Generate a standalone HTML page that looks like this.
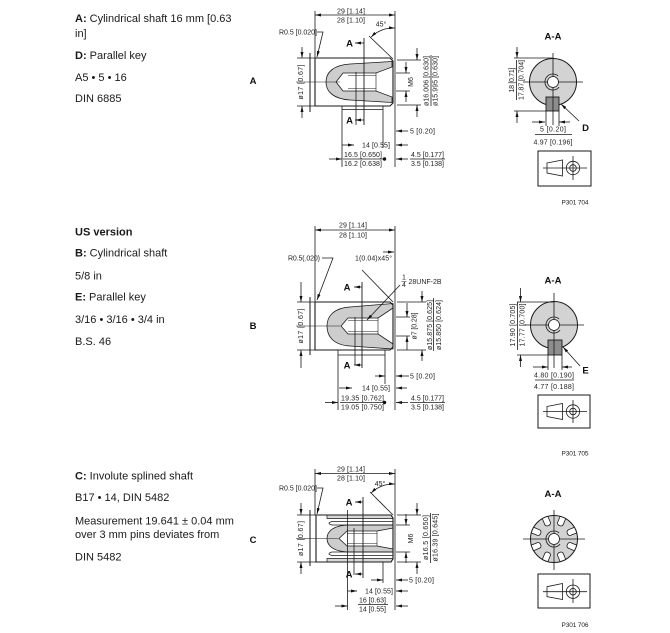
<!DOCTYPE html>
<html><head><meta charset="utf-8">
<style>
html,body{margin:0;padding:0;background:#fff;width:670px;height:633px;overflow:hidden}
svg{display:block}
.d{font-family:"Liberation Sans",sans-serif;font-size:7px;fill:#222}
.b{font-family:"Liberation Sans",sans-serif;font-size:9.5px;font-weight:bold;fill:#111}
.t{font-family:"Liberation Sans",sans-serif;font-size:11px;fill:#1a1a1a}
.p{font-family:"Liberation Sans",sans-serif;font-size:6.5px;fill:#222}
</style></head>
<body>
<svg width="670" height="633" viewBox="0 0 670 633" xmlns="http://www.w3.org/2000/svg">
<defs>
<marker id="m" viewBox="0 0 8 4" refX="8" refY="2" markerWidth="6" markerHeight="3" orient="auto-start-reverse" markerUnits="userSpaceOnUse"><path d="M0,0L8,2L0,4z" fill="#111"/></marker>
<clipPath id="gc"><circle cx="554" cy="539" r="23.5"/></clipPath>
</defs>

<!-- LEFT TEXT -->
<text class="t" x="75" y="22"><tspan font-weight="bold">A:</tspan> Cylindrical shaft 16 mm [0.63</text>
<text class="t" x="75" y="37">in]</text>
<text class="t" x="75" y="59"><tspan font-weight="bold">D:</tspan> Parallel key</text>
<text class="t" x="75" y="81">A5 • 5 • 16</text>
<text class="t" x="75" y="102">DIN 6885</text>

<text class="t" x="75" y="235.5" font-weight="bold">US version</text>
<text class="t" x="75" y="256.5"><tspan font-weight="bold">B:</tspan> Cylindrical shaft</text>
<text class="t" x="75" y="279.5">5/8 in</text>
<text class="t" x="75" y="300.5"><tspan font-weight="bold">E:</tspan> Parallel key</text>
<text class="t" x="75" y="323">3/16 • 3/16 • 3/4 in</text>
<text class="t" x="75" y="345">B.S. 46</text>

<text class="t" x="75" y="479.5"><tspan font-weight="bold">C:</tspan> Involute splined shaft</text>
<text class="t" x="75" y="501">B17 • 14, DIN 5482</text>
<text class="t" x="75" y="524.5">Measurement 19.641 ± 0.04 mm</text>
<text class="t" x="75" y="538">over 3 mm pins deviates from</text>
<text class="t" x="75" y="560.5">DIN 5482</text>

<text class="b" x="253" y="84" text-anchor="middle">A</text>
<text class="b" x="253" y="329" text-anchor="middle">B</text>
<text class="b" x="253" y="543" text-anchor="middle">C</text>

<!-- ================= DRAWING A ================= -->
<path d="M392,61.5L350,64C334,65 326,72 326,82C326,92 334,99 350,100L392,102.5L392,97L376,91L343,91L336,82L343,73L376,73L392,67Z" fill="#cdcdcd" stroke="#1a1a1a" stroke-width=".8"/>
<g stroke="#1a1a1a" stroke-width=".8" fill="none">
<path d="M315,15H395" marker-start="url(#m)" marker-end="url(#m)"/>
<path d="M315,11V58M395,11V167"/>
<path d="M310,53V112" stroke-width="1"/>
<path d="M315,58H390L393,61V103L390,106H315Z" stroke-width="1.1"/>
<path d="M297,58H315M297,106H315"/>
<path d="M302,47V58" marker-end="url(#m)"/>
<path d="M302,118V106" marker-end="url(#m)"/>
<path d="M348,75.5H376M348,88.5H376M376,73V91" stroke-width=".6"/>
<path d="M296,82H340" stroke-width=".5"/>
<path d="M364,38V125" stroke-width=".9"/>
<path d="M356,72V125"/>
<path d="M364,43H355" marker-end="url(#m)"/>
<path d="M364,120H355" marker-end="url(#m)"/>
<path d="M342,106V167M383,106V148M342,109.5H383"/>
<path d="M369,36L393,59"/>
<path d="M371.1,37.1A31,31 0 0 1 395,28.1" marker-start="url(#m)" marker-end="url(#m)"/>
<path d="M317,32H323L317,57" marker-end="url(#m)"/>
<path d="M397,60H421M397,105H421"/>
<path d="M417,48V60" marker-end="url(#m)"/>
<path d="M417,117V105" marker-end="url(#m)"/>
<path d="M431,55V106"/>
<path d="M396,73H410M396,91H410"/>
<path d="M406,62V73" marker-end="url(#m)"/>
<path d="M406,102V91" marker-end="url(#m)"/>
<path d="M408,131H396" marker-end="url(#m)"/>
<path d="M342,145H354" marker-end="url(#m)"/>
<path d="M408,145H396" marker-end="url(#m)"/>
<path d="M343,159H383"/>
<path d="M329,159H342" marker-end="url(#m)"/>
<path d="M410,159H445"/>
<path d="M408,159H396" marker-end="url(#m)"/>
</g>
<circle cx="384.5" cy="159" r="1.7" fill="#111"/>
<text class="d" x="351" y="13.5" text-anchor="middle" textLength="28">29 [1.14]</text>
<text class="d" x="351" y="22.5" text-anchor="middle" textLength="28">28 [1.10]</text>
<text class="d" x="317" y="34.5" text-anchor="end" textLength="38">R0.5 [0.020]</text>
<text class="d" x="381" y="26.5" text-anchor="middle">45°</text>
<text class="b" x="349.5" y="46.5" text-anchor="middle">A</text>
<text class="b" x="349.5" y="123.5" text-anchor="middle">A</text>
<text class="d" transform="translate(303,82) rotate(-90)" text-anchor="middle" textLength="35">ø17 [0.67]</text>
<text class="d" transform="translate(428.5,81) rotate(-90)" text-anchor="middle" textLength="50">ø16.006 [0.630]</text>
<text class="d" transform="translate(437.5,81) rotate(-90)" text-anchor="middle" textLength="50">ø15.995 [0.630]</text>
<text class="d" transform="translate(413,82) rotate(-90)" text-anchor="middle">M6</text>
<text class="d" x="410" y="133.5" textLength="25">5 [0.20]</text>
<text class="d" x="362" y="147.5" textLength="28">14 [0.55]</text>
<text class="d" x="344" y="157" textLength="38">16.5 [0.650]</text>
<text class="d" x="344" y="166" textLength="38">16.2 [0.638]</text>
<text class="d" x="411" y="157" textLength="33">4.5 [0.177]</text>
<text class="d" x="411" y="166" textLength="33">3.5 [0.138]</text>

<!-- SECTION A-A (A) -->
<text class="b" x="553" y="39.5" text-anchor="middle">A-A</text>
<circle cx="553" cy="82" r="23.5" fill="#d3d3d3" stroke="#1a1a1a" stroke-width="1"/>
<rect x="546" y="97" width="13" height="14" fill="#8d8d8d" stroke="#1a1a1a" stroke-width=".9"/>
<g stroke="#1a1a1a" stroke-width=".8" fill="none">
<path d="M523,82H583M553,53V125"/>
<circle cx="553" cy="82" r="5.5" fill="#fff"/>
<path d="M558.1,75.9A8,8 0 1 0 559.1,87.1"/>
<path d="M517,47V58" marker-end="url(#m)"/>
<path d="M517,123V111" marker-end="url(#m)"/>
<path d="M514,58H553M514,111H546"/>
<path d="M516.5,60V100"/>
<path d="M532,122H545" marker-end="url(#m)"/>
<path d="M570,122H559" marker-end="url(#m)"/>
<path d="M546,111V126M559,111V126"/>
<path d="M535,134.5H572"/>
<path d="M579,121L561,104" marker-end="url(#m)"/>
<rect x="538" y="151" width="53" height="35" stroke-width="1"/>
<path d="M547,163L562.5,160V176L547,173Z"/>
<circle cx="573" cy="168" r="6.7"/>
<circle cx="573" cy="168" r="3.3"/>
<path d="M543,168H587M573,156V180"/>
</g>
<text class="d" transform="translate(514,80) rotate(-90)" text-anchor="middle" textLength="25">18 [0.71]</text>
<text class="d" transform="translate(523.5,80) rotate(-90)" text-anchor="middle" textLength="40">17.87 [0.704]</text>
<text class="d" x="553" y="131.5" text-anchor="middle" textLength="26">5 [0.20]</text>
<text class="d" x="553" y="144.5" text-anchor="middle" textLength="39">4.97 [0.196]</text>
<text class="b" x="585.5" y="131" text-anchor="middle">D</text>
<text class="p" x="575" y="204.5" text-anchor="middle" textLength="27">P301 704</text>

<!-- ================= DRAWING B ================= -->
<path d="M393,303.5L350,307C334,308 327,316 327,326C327,337 334,345 350,346L393,349L393,344L378,334L348,334L341,326L348,318L378,318L393,308Z" fill="#cdcdcd" stroke="#1a1a1a" stroke-width=".8"/>
<g stroke="#1a1a1a" stroke-width=".8" fill="none">
<path d="M315,230H395" marker-start="url(#m)" marker-end="url(#m)"/>
<path d="M315,226V302M395,226V410"/>
<path d="M310,297V355" stroke-width="1"/>
<path d="M315,302H390L393,305V347L390,350H315Z" stroke-width="1.1"/>
<path d="M297,302H315M297,350H315"/>
<path d="M301,282V302" marker-end="url(#m)"/>
<path d="M301,368V350" marker-end="url(#m)"/>
<path d="M348,320.5H378M348,331.5H378M378,318V334" stroke-width=".6"/>
<path d="M296,326H340" stroke-width=".5"/>
<path d="M362,282V368" stroke-width=".9"/>
<path d="M355,317V365"/>
<path d="M362,287H354" marker-end="url(#m)"/>
<path d="M362,365H354" marker-end="url(#m)"/>
<path d="M338,350V410M385,350V384M338,355H385"/>
<path d="M322,258H333L317,300" marker-end="url(#m)"/>
<path d="M362,270L393,302"/>
<path d="M383,252H394" marker-end="url(#m)"/>
<path d="M401.5,281.3H406.5" stroke-width=".5"/>
<path d="M400,285L367,320" marker-end="url(#m)"/>
<path d="M396,317H410M396,336H410"/>
<path d="M407,303V317" marker-end="url(#m)"/>
<path d="M407,350V336" marker-end="url(#m)"/>
<path d="M397,302H426M397,350H426"/>
<path d="M422,291V302" marker-end="url(#m)"/>
<path d="M422,361V350" marker-end="url(#m)"/>
<path d="M433.5,298V351"/>
<path d="M375,376H385" marker-end="url(#m)"/>
<path d="M409,376H396" marker-end="url(#m)"/>
<path d="M339,388H352" marker-end="url(#m)"/>
<path d="M407,388H396" marker-end="url(#m)"/>
<path d="M340,402.5H384"/>
<path d="M325,402.5H338" marker-end="url(#m)"/>
<path d="M410,402.5H445"/>
<path d="M408,402.5H396" marker-end="url(#m)"/>
</g>
<circle cx="384.5" cy="402.5" r="1.7" fill="#111"/>
<text class="d" x="353" y="227.5" text-anchor="middle" textLength="28">29 [1.14]</text>
<text class="d" x="353" y="237.5" text-anchor="middle" textLength="28">28 [1.10]</text>
<text class="d" x="320" y="260.5" text-anchor="end" textLength="32">R0.5(.020)</text>
<text class="d" x="355" y="260.5" textLength="37">1(0.04)x45°</text>
<text class="d" x="404" y="279.5" text-anchor="middle" font-size="5.5">1</text>
<text class="d" x="404" y="287" text-anchor="middle" font-size="5.5">4</text>
<text class="d" x="408.5" y="284" textLength="33">28UNF-2B</text>
<text class="b" x="347" y="290.5" text-anchor="middle">A</text>
<text class="b" x="347" y="368.5" text-anchor="middle">A</text>
<text class="d" transform="translate(303,326) rotate(-90)" text-anchor="middle" textLength="35">ø17 [0.67]</text>
<text class="d" transform="translate(416.5,326) rotate(-90)" text-anchor="middle" textLength="27">ø7 [0.28]</text>
<text class="d" transform="translate(432,325) rotate(-90)" text-anchor="middle" textLength="50">ø15.875 [0.625]</text>
<text class="d" transform="translate(441,325) rotate(-90)" text-anchor="middle" textLength="50">ø15.850 [0.624]</text>
<text class="d" x="410" y="378.5" textLength="25">5 [0.20]</text>
<text class="d" x="362" y="390.5" textLength="28">14 [0.55]</text>
<text class="d" x="341" y="400.5" textLength="43">19.35 [0.762]</text>
<text class="d" x="341" y="409.5" textLength="43">19.05 [0.750]</text>
<text class="d" x="411" y="400.5" textLength="33">4.5 [0.177]</text>
<text class="d" x="411" y="409.5" textLength="33">3.5 [0.138]</text>

<!-- SECTION A-A (B) -->
<text class="b" x="553" y="283.5" text-anchor="middle">A-A</text>
<circle cx="554" cy="325" r="23.5" fill="#d3d3d3" stroke="#1a1a1a" stroke-width="1"/>
<rect x="548" y="340" width="14" height="15" fill="#8d8d8d" stroke="#1a1a1a" stroke-width=".9"/>
<g stroke="#1a1a1a" stroke-width=".8" fill="none">
<path d="M523,325H584M554,293V368"/>
<circle cx="554" cy="325" r="5.5" fill="#fff"/>
<path d="M559.1,318.9A8,8 0 1 0 560.1,330.1"/>
<path d="M520.5,288V302" marker-end="url(#m)"/>
<path d="M520.5,367V355" marker-end="url(#m)"/>
<path d="M517,302H554M517,355H548"/>
<path d="M517.5,302V350"/>
<path d="M533,367H548" marker-end="url(#m)"/>
<path d="M572,367H562" marker-end="url(#m)"/>
<path d="M548,355V370M562,355V370"/>
<path d="M535,380H574"/>
<path d="M580,366L563,347" marker-end="url(#m)"/>
<rect x="538" y="395" width="52" height="33" stroke-width="1"/>
<path d="M547,406.5L562.5,403.5V419.5L547,416.5Z"/>
<circle cx="573" cy="411.5" r="6.7"/>
<circle cx="573" cy="411.5" r="3.3"/>
<path d="M543,411.5H587M573,400V423"/>
</g>
<text class="d" transform="translate(515,325) rotate(-90)" text-anchor="middle" textLength="43">17.90 [0.705]</text>
<text class="d" transform="translate(524.5,325) rotate(-90)" text-anchor="middle" textLength="43">17.77 [0.700]</text>
<text class="d" x="554" y="377.5" text-anchor="middle" textLength="40">4.80 [0.190]</text>
<text class="d" x="554" y="389" text-anchor="middle" textLength="40">4.77 [0.188]</text>
<text class="b" x="585.5" y="373.5" text-anchor="middle">E</text>
<text class="p" x="575" y="455.5" text-anchor="middle" textLength="27">P301 705</text>

<!-- ================= DRAWING C ================= -->
<path d="M327,515H391L393,518.5H327Z" fill="#d8d8d8" stroke="#1a1a1a" stroke-width=".7"/>
<path d="M327,558.5H393L391,562H327Z" fill="#d8d8d8" stroke="#1a1a1a" stroke-width=".7"/>
<path d="M393,525L350,525C334,525 327,531 327,538.5C327,546 334,552 350,552L393,552L393,549L377,546L347,546L339,538.5L347,531L377,531L393,528Z" fill="#cdcdcd" stroke="#1a1a1a" stroke-width=".8"/>
<g stroke="#1a1a1a" stroke-width=".8" fill="none">
<path d="M315,473.5H395" marker-start="url(#m)" marker-end="url(#m)"/>
<path d="M315,469V515M395,469V610"/>
<path d="M310,510V566" stroke-width="1"/>
<path d="M316,515H391L393,518V559L391,562H316Z" stroke-width="1.1"/>
<path d="M393,521.5H332Q326,523.2 332,525H393"/>
<path d="M393,552H332Q326,553.8 332,555.5H393"/>
<path d="M297,515H316M297,562H316"/>
<path d="M301,503V515" marker-end="url(#m)"/>
<path d="M301,574V562" marker-end="url(#m)"/>
<path d="M347,533.5H377M347,543.5H377M377,531V546" stroke-width=".6"/>
<path d="M296,538.5H338" stroke-width=".5"/>
<path d="M363,497V578" stroke-width=".9"/>
<path d="M354,528V575"/>
<path d="M347.5,510V610"/>
<path d="M363,502H355" marker-end="url(#m)"/>
<path d="M363,574H355" marker-end="url(#m)"/>
<path d="M383,562V583"/>
<path d="M370,492L393,515"/>
<path d="M371.1,493.1A31,31 0 0 1 395,484.1" marker-start="url(#m)" marker-end="url(#m)"/>
<path d="M317,488H323L317,514" marker-end="url(#m)"/>
<path d="M397,515H421M397,562H421"/>
<path d="M417,503V515" marker-end="url(#m)"/>
<path d="M417,574V562" marker-end="url(#m)"/>
<path d="M430.5,513V563"/>
<path d="M396,525H410M396,552H410"/>
<path d="M406,514V525" marker-end="url(#m)"/>
<path d="M406,563V552" marker-end="url(#m)"/>
<path d="M371,580H383" marker-end="url(#m)"/>
<path d="M408,580H396" marker-end="url(#m)"/>
<path d="M347.5,591H357" marker-end="url(#m)"/>
<path d="M408,591H396" marker-end="url(#m)"/>
<path d="M358,604.5H388"/>
<path d="M335,606H347.5" marker-end="url(#m)"/>
<path d="M408,606H396" marker-end="url(#m)"/>
</g>
<text class="d" x="351" y="471.5" text-anchor="middle" textLength="28">29 [1.14]</text>
<text class="d" x="351" y="480.5" text-anchor="middle" textLength="28">28 [1.10]</text>
<text class="d" x="317" y="490.5" text-anchor="end" textLength="38">R0.5 [0.020]</text>
<text class="d" x="380" y="486" text-anchor="middle">45°</text>
<text class="b" x="349" y="505.5" text-anchor="middle">A</text>
<text class="b" x="349" y="577.5" text-anchor="middle">A</text>
<text class="d" transform="translate(303,538.5) rotate(-90)" text-anchor="middle" textLength="35">ø17 [0.67]</text>
<text class="d" transform="translate(428,537.5) rotate(-90)" text-anchor="middle" textLength="45">ø16.5 [0.650]</text>
<text class="d" transform="translate(437.5,537.5) rotate(-90)" text-anchor="middle" textLength="48">ø16.39 [0.645]</text>
<text class="d" transform="translate(413,538.5) rotate(-90)" text-anchor="middle">M6</text>
<text class="d" x="409" y="582.5" textLength="25">5 [0.20]</text>
<text class="d" x="365" y="593.5" textLength="28">14 [0.55]</text>
<text class="d" x="359" y="602.5" textLength="27">16 [0.63]</text>
<text class="d" x="359" y="611.5" textLength="27">14 [0.55]</text>

<!-- SECTION A-A (C) -->
<text class="b" x="553" y="496.8" text-anchor="middle">A-A</text>
<circle cx="554" cy="539" r="23.5" fill="#d3d3d3"/>
<g clip-path="url(#gc)" fill="#fff" stroke="#1a1a1a" stroke-width=".8">
<rect x="14.5" y="-3" width="11" height="6" rx="2.5" transform="translate(554,539) rotate(22.5)"/>
<rect x="14.5" y="-3" width="11" height="6" rx="2.5" transform="translate(554,539) rotate(67.5)"/>
<rect x="14.5" y="-3" width="11" height="6" rx="2.5" transform="translate(554,539) rotate(112.5)"/>
<rect x="14.5" y="-3" width="11" height="6" rx="2.5" transform="translate(554,539) rotate(157.5)"/>
<rect x="14.5" y="-3" width="11" height="6" rx="2.5" transform="translate(554,539) rotate(202.5)"/>
<rect x="14.5" y="-3" width="11" height="6" rx="2.5" transform="translate(554,539) rotate(247.5)"/>
<rect x="14.5" y="-3" width="11" height="6" rx="2.5" transform="translate(554,539) rotate(292.5)"/>
<rect x="14.5" y="-3" width="11" height="6" rx="2.5" transform="translate(554,539) rotate(337.5)"/>
</g>
<g stroke="#1a1a1a" stroke-width=".8" fill="none">
<circle cx="554" cy="539" r="23.5" stroke-width="1"/>
<path d="M523,539H585M554,510V570"/>
<circle cx="554" cy="539" r="5.5" fill="#fff"/>
<path d="M559.1,532.9A8,8 0 1 0 560.1,544.1"/>
<rect x="538" y="574" width="52" height="34" stroke-width="1"/>
<path d="M547,586.7L562.5,583.5V599.5L547,596.7Z"/>
<circle cx="573" cy="591.7" r="6.7"/>
<circle cx="573" cy="591.7" r="3.3"/>
<path d="M543,591.7H587M573,579V603"/>
</g>
<text class="p" x="575" y="626.8" text-anchor="middle" textLength="27">P301 706</text>
</svg>
</body></html>
